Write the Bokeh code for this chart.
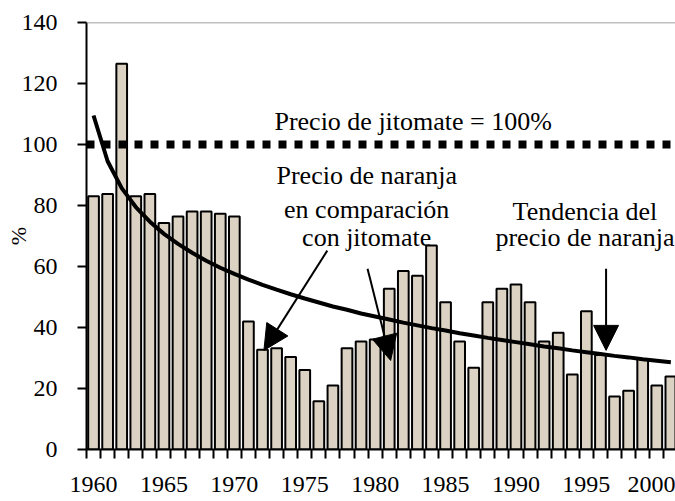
from bokeh.plotting import figure
from bokeh.models import Range1d, FixedTicker, Span, Label, Arrow, NormalHead
from bokeh.embed import file_html
from bokeh.resources import INLINE

years = list(range(1960, 2002))
orange_pct = [83.0, 83.8, 126.5, 83.0, 83.8, 74.3, 76.4, 78.0, 78.0, 77.3, 76.4,
              42.0, 32.7, 33.2, 30.3, 26.1, 15.8, 21.0, 33.2, 35.4, 36.1,
              52.7, 58.5, 57.0, 66.9, 48.3, 35.4, 26.8, 48.3, 52.7, 54.1,
              48.3, 35.4, 38.3, 24.6, 45.3, 31.0, 17.4, 19.3, 29.7, 21.0, 23.9]
trend_pct = [109.5, 94.5, 85.7, 79.5, 74.7, 70.7, 67.4, 64.5, 61.9, 59.6,
             57.6, 55.7, 54.0, 52.4, 50.9, 49.5, 48.2, 46.9, 45.8, 44.6,
             43.6, 42.6, 41.6, 40.7, 39.8, 39.0, 38.1, 37.4, 36.6, 35.9,
             35.2, 34.5, 33.8, 33.2, 32.5, 31.9, 31.3, 30.7, 30.2, 29.6,
             29.1, 28.6]
reference_level = 100
x_tick_labels = [1960, 1965, 1970, 1975, 1980, 1985, 1990, 1995, 2000]
y_ticks = [0, 20, 40, 60, 80, 100, 120, 140]

FONT = "Liberation Serif"
X0, X1 = 1959.5, 2001.33

p = figure(width=675, height=501,
           x_range=Range1d(X0, X1), y_range=Range1d(0, 140),
           output_backend="svg", toolbar_location=None,
           min_border_left=86, min_border_right=0,
           min_border_top=22, min_border_bottom=52)
p.outline_line_color = None
p.xgrid.visible = False
p.ygrid.visible = False
p.background_fill_color = "white"

p.vbar(x=years, top=orange_pct, width=0.76, fill_color="#DCD2C3",
       line_color="black", line_width=2)
p.add_layout(Span(location=140, dimension="width", line_color="#808080", line_width=1.5))
p.add_layout(Span(location=reference_level, dimension="width", line_color="black",
                  line_width=8, line_dash="8 8"))
p.line(years, trend_pct, line_color="black", line_width=4)

p.yaxis.ticker = FixedTicker(ticks=y_ticks)
p.yaxis.axis_line_width = 2
p.yaxis.axis_line_color = "black"
p.yaxis.major_tick_out = 9
p.yaxis.major_tick_in = 0
p.yaxis.major_tick_line_width = 2
p.yaxis.major_tick_line_color = "black"
p.yaxis.minor_tick_line_color = None
p.yaxis.major_label_text_font = FONT
p.yaxis.major_label_text_font_size = "24px"
p.yaxis.major_label_text_color = "black"
p.yaxis.major_label_standoff = 20
p.yaxis.axis_label = "%"
p.yaxis.axis_label_text_font = FONT
p.yaxis.axis_label_text_font_size = "22px"
p.yaxis.axis_label_text_font_style = "normal"
p.yaxis.axis_label_text_color = "black"
p.yaxis.axis_label_standoff = -12

bounds = [y - 0.5 for y in years] + [years[-1] + 0.5]
p.xaxis.ticker = FixedTicker(ticks=x_tick_labels, minor_ticks=bounds)
p.xaxis.axis_line_width = 2
p.xaxis.axis_line_color = "black"
p.xaxis.major_tick_out = 9
p.xaxis.major_tick_in = 0
p.xaxis.major_tick_line_color = None
p.xaxis.minor_tick_out = 9
p.xaxis.minor_tick_in = 0
p.xaxis.minor_tick_line_width = 2
p.xaxis.minor_tick_line_color = "black"
p.xaxis.major_label_text_font = FONT
p.xaxis.major_label_text_font_size = "24px"
p.xaxis.major_label_text_font_style = "normal"
p.xaxis.major_label_text_color = "black"
p.xaxis.major_label_standoff = 18

def txt(text, x, y, size):
    p.add_layout(Label(x=x, y=y, text=text, text_font=FONT, text_font_size=size,
                       text_align="center", text_baseline="alphabetic", text_color="black"))

ann = "26px"
txt("Precio de jitomate = 100%", 1982.7, 107.5, ann)
txt("Precio de naranja", 1979.4, 89.8, ann)
txt("en comparación", 1979.4, 78.6, ann)
txt("con jitomate", 1979.4, 69.4, ann)
txt("Tendencia del", 1994.9, 78.0, ann)
txt("precio de naranja", 1994.9, 69.4, ann)

def arr(x0, y0, x1, y1):
    p.add_layout(Arrow(end=NormalHead(size=25, fill_color="black", line_color="black"),
                       x_start=x0, y_start=y0, x_end=x1, y_end=y1,
                       line_color="black", line_width=2))

arr(1976.6, 65.2, 1972.1, 32.5)
arr(1979.46, 59.3, 1981.1, 29.2)
arr(1996.4, 59.3, 1996.4, 32.5)

open("out.html", "w").write(file_html(p, INLINE))
